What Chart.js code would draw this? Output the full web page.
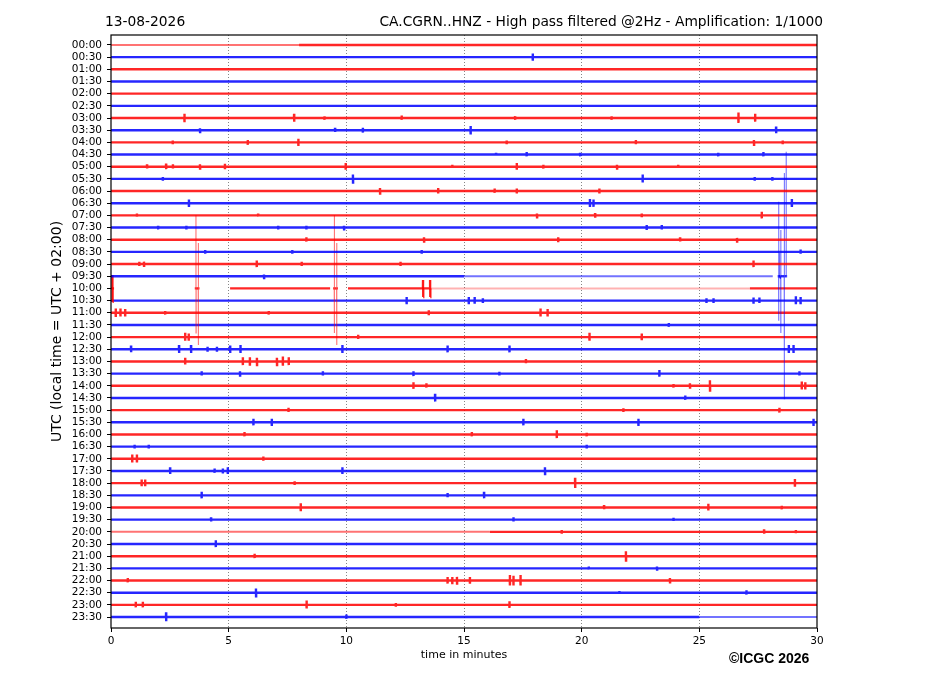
<!DOCTYPE html>
<html>
<head>
<meta charset="utf-8">
<script src="https://cdn.jsdelivr.net/npm/chart.js@4.4.1/dist/chart.umd.min.js"></script>
<style>
  html, body { margin: 0; padding: 0; background: #fff; }
  #wrap { width: 927px; height: 696px; position: relative; }
</style>
</head>
<body>
<div id="wrap"><canvas id="heliChart"></canvas></div>
<script>
// one trace per half hour, alternating red / blue
const rowLabels = [
  '00:00', '00:30', '01:00', '01:30', '02:00', '02:30', '03:00', '03:30',
  '04:00', '04:30', '05:00', '05:30', '06:00', '06:30', '07:00', '07:30',
  '08:00', '08:30', '09:00', '09:30', '10:00', '10:30', '11:00', '11:30',
  '12:00', '12:30', '13:00', '13:30', '14:00', '14:30', '15:00', '15:30',
  '16:00', '16:30', '17:00', '17:30', '18:00', '18:30', '19:00', '19:30',
  '20:00', '20:30', '21:00', '21:30', '22:00', '22:30', '23:00', '23:30'
];
const xTicks = [0, 5, 10, 15, 20, 25, 30];
const traceColors = ['255,0,0', '0,0,255'];

// small events: [row, minute, amplitude up, amplitude down] (amplitude in trace spacings)
const blips = [
  [1, 17.92, 0.3, 0.3],
  [6, 3.12, 0.35, 0.35], [6, 7.78, 0.35, 0.3], [6, 9.07, 0.15, 0.15], [6, 12.35, 0.2, 0.15], [6, 17.17, 0.15, 0.15], [6, 21.27, 0.15, 0.15], [6, 26.66, 0.45, 0.4], [6, 27.37, 0.35, 0.3],
  [7, 3.78, 0.15, 0.15], [7, 9.52, 0.2, 0.15], [7, 10.7, 0.2, 0.2], [7, 15.28, 0.35, 0.35], [7, 28.26, 0.3, 0.25],
  [8, 2.62, 0.15, 0.15], [8, 5.81, 0.2, 0.2], [8, 7.96, 0.3, 0.3], [8, 16.81, 0.15, 0.15], [8, 22.3, 0.2, 0.15], [8, 27.32, 0.2, 0.2], [8, 28.54, 0.15, 0.15],
  [9, 16.36, 0.15, 0.1], [9, 17.66, 0.2, 0.15], [9, 19.93, 0.15, 0.15], [9, 25.8, 0.15, 0.15], [9, 27.72, 0.2, 0.15],
  [10, 1.53, 0.2, 0.15], [10, 2.34, 0.25, 0.2], [10, 2.63, 0.2, 0.15], [10, 3.78, 0.2, 0.15], [10, 4.84, 0.25, 0.2], [10, 9.97, 0.3, 0.25], [10, 14.5, 0.15, 0.1], [10, 17.24, 0.3, 0.25], [10, 18.37, 0.15, 0.15], [10, 21.5, 0.15, 0.15], [10, 24.1, 0.15, 0.1],
  [11, 2.2, 0.15, 0.15], [11, 10.28, 0.35, 0.3], [11, 22.59, 0.35, 0.3], [11, 27.35, 0.15, 0.15], [11, 28.1, 0.15, 0.15],
  [12, 11.43, 0.25, 0.2], [12, 13.9, 0.25, 0.2], [12, 16.3, 0.2, 0.15], [12, 17.24, 0.2, 0.2], [12, 20.75, 0.2, 0.2],
  [13, 3.31, 0.3, 0.3], [13, 20.35, 0.35, 0.3], [13, 20.5, 0.3, 0.3], [13, 28.93, 0.35, 0.3],
  [14, 1.1, 0.15, 0.1], [14, 6.25, 0.15, 0.1], [14, 18.1, 0.15, 0.15], [14, 20.57, 0.2, 0.2], [14, 22.55, 0.15, 0.15], [14, 27.65, 0.3, 0.25],
  [15, 2.0, 0.15, 0.15], [15, 3.2, 0.15, 0.15], [15, 7.1, 0.15, 0.15], [15, 8.3, 0.15, 0.15], [15, 9.9, 0.15, 0.15], [15, 22.76, 0.2, 0.2], [15, 23.4, 0.2, 0.15],
  [16, 8.3, 0.2, 0.15], [16, 13.3, 0.2, 0.15], [16, 19.0, 0.2, 0.2], [16, 24.18, 0.2, 0.15], [16, 26.6, 0.15, 0.15],
  [17, 4.0, 0.15, 0.15], [17, 7.7, 0.15, 0.15], [17, 13.2, 0.15, 0.15], [17, 29.3, 0.2, 0.15],
  [18, 1.2, 0.2, 0.15], [18, 1.4, 0.2, 0.15], [18, 6.19, 0.3, 0.25], [18, 8.1, 0.2, 0.15], [18, 12.3, 0.2, 0.15], [18, 27.3, 0.3, 0.25],
  [19, 6.5, 0.15, 0.15],
  [21, 12.56, 0.3, 0.3], [21, 15.2, 0.3, 0.3], [21, 15.45, 0.3, 0.25], [21, 15.8, 0.2, 0.2], [21, 25.3, 0.2, 0.2], [21, 25.6, 0.2, 0.2], [21, 27.3, 0.25, 0.25], [21, 27.55, 0.25, 0.2], [21, 29.1, 0.35, 0.3], [21, 29.3, 0.3, 0.3],
  [22, 0.2, 0.35, 0.35], [22, 0.4, 0.35, 0.3], [22, 0.6, 0.3, 0.3], [22, 2.3, 0.15, 0.15], [22, 6.7, 0.15, 0.15], [22, 13.5, 0.2, 0.2], [22, 18.25, 0.35, 0.3], [22, 18.55, 0.3, 0.3],
  [23, 23.7, 0.15, 0.15],
  [24, 3.15, 0.35, 0.3], [24, 3.3, 0.3, 0.3], [24, 10.5, 0.2, 0.15], [24, 20.33, 0.35, 0.3], [24, 22.55, 0.3, 0.25],
  [25, 0.85, 0.3, 0.25], [25, 2.89, 0.35, 0.3], [25, 3.4, 0.35, 0.3], [25, 4.1, 0.2, 0.2], [25, 4.5, 0.2, 0.2], [25, 5.06, 0.3, 0.3], [25, 5.5, 0.35, 0.3], [25, 9.83, 0.35, 0.3], [25, 14.3, 0.3, 0.25], [25, 16.93, 0.3, 0.25], [25, 28.8, 0.35, 0.3], [25, 29.0, 0.35, 0.3],
  [26, 3.15, 0.3, 0.25], [26, 5.6, 0.35, 0.3], [26, 5.9, 0.35, 0.35], [26, 6.2, 0.3, 0.3], [26, 7.05, 0.3, 0.3], [26, 7.3, 0.4, 0.35], [26, 7.55, 0.35, 0.3], [26, 17.63, 0.2, 0.15],
  [27, 3.85, 0.2, 0.15], [27, 5.48, 0.2, 0.15], [27, 9.0, 0.2, 0.15], [27, 12.85, 0.2, 0.2], [27, 16.5, 0.15, 0.15], [27, 23.3, 0.3, 0.25], [27, 29.25, 0.2, 0.15],
  [28, 12.85, 0.3, 0.25], [28, 13.4, 0.2, 0.15], [28, 23.9, 0.15, 0.15], [28, 24.6, 0.2, 0.15], [28, 25.45, 0.45, 0.4], [28, 29.35, 0.35, 0.3], [28, 29.5, 0.3, 0.3],
  [29, 13.77, 0.35, 0.3], [29, 24.4, 0.2, 0.15],
  [30, 7.54, 0.2, 0.15], [30, 21.77, 0.15, 0.15], [30, 28.4, 0.2, 0.2],
  [31, 6.05, 0.3, 0.25], [31, 6.83, 0.3, 0.3], [31, 17.52, 0.3, 0.25], [31, 22.41, 0.3, 0.3], [31, 29.85, 0.3, 0.3],
  [32, 5.67, 0.2, 0.15], [32, 15.33, 0.2, 0.15], [32, 18.94, 0.35, 0.3], [32, 20.21, 0.15, 0.15],
  [33, 1.0, 0.15, 0.15], [33, 1.6, 0.15, 0.15], [33, 20.21, 0.15, 0.15],
  [34, 0.9, 0.35, 0.3], [34, 1.1, 0.35, 0.3], [34, 6.47, 0.2, 0.15],
  [35, 2.51, 0.3, 0.25], [35, 4.4, 0.2, 0.15], [35, 4.75, 0.2, 0.2], [35, 4.96, 0.3, 0.25], [35, 9.83, 0.3, 0.25], [35, 18.44, 0.3, 0.25],
  [36, 1.3, 0.3, 0.25], [36, 1.45, 0.3, 0.25], [36, 7.8, 0.15, 0.15], [36, 19.72, 0.45, 0.4], [36, 29.06, 0.35, 0.3],
  [37, 3.85, 0.3, 0.25], [37, 14.3, 0.2, 0.15], [37, 15.85, 0.3, 0.25],
  [38, 8.06, 0.35, 0.3], [38, 20.95, 0.2, 0.15], [38, 25.38, 0.3, 0.25], [38, 28.5, 0.15, 0.15],
  [39, 4.25, 0.2, 0.15], [39, 17.1, 0.2, 0.15], [39, 23.9, 0.15, 0.1],
  [40, 19.15, 0.15, 0.15], [40, 27.75, 0.2, 0.15], [40, 29.1, 0.15, 0.1],
  [41, 4.45, 0.3, 0.25],
  [42, 6.1, 0.2, 0.15], [42, 21.88, 0.4, 0.35],
  [43, 20.3, 0.15, 0.1], [43, 23.2, 0.15, 0.1],
  [44, 0.71, 0.2, 0.15], [44, 14.3, 0.3, 0.25], [44, 14.5, 0.3, 0.3], [44, 14.7, 0.3, 0.25], [44, 15.25, 0.3, 0.25], [44, 16.95, 0.45, 0.4], [44, 17.1, 0.4, 0.4], [44, 17.4, 0.45, 0.4], [44, 23.75, 0.2, 0.15],
  [45, 6.16, 0.35, 0.3], [45, 21.6, 0.15, 0.1], [45, 27.0, 0.2, 0.15],
  [46, 1.05, 0.25, 0.2], [46, 1.35, 0.25, 0.2], [46, 8.31, 0.35, 0.3], [46, 12.1, 0.15, 0.15], [46, 16.93, 0.3, 0.25],
  [47, 2.34, 0.4, 0.35], [47, 10.0, 0.2, 0.15]
];

// large glitches around 09:30 / 10:00
const glitchSpikes = [
  [20, 0.06, 1.1, 1.1],
  [20, 3.61, 6.03, 3.66], [20, 3.71, 3.73, 4.65],
  [20, 9.49, 6.03, 3.66], [20, 9.59, 3.73, 4.65],
  [20, 13.26, 0.7, 0.7], [20, 13.56, 0.7, 0.7],
  [19, 28.37, 6.12, 3.66], [19, 28.41, 1.9, 0.1], [19, 28.46, 3.8, 4.67],
  [19, 28.61, 8.48, 10.1], [19, 28.69, 10.23, 0]
];

// no data: [row, from minute, to minute]
const dataGaps = [
  [20, 0.13, 3.56], [20, 3.76, 5.06], [20, 9.31, 9.44], [20, 9.64, 10.07],
  [19, 28.12, 28.33], [19, 28.73, 30]
];

// flat, low-noise stretches: [row, from minute, to minute]
const quietSpans = [
  [0, 0, 7.99], [19, 15.0, 28.12], [20, 13.57, 27.15], [40, 0, 16.1], [47, 25.0, 30]
];

function buildRow(r) {
  const pts = [];
  const gaps = dataGaps.concat(quietSpans).filter(g => g[0] === r);
  const inGap = x => gaps.some(g => x >= g[1] && x <= g[2]);
  [0, 30].forEach(x => { if (!inGap(x)) pts.push({ x: x, y: r }); });
  blips.concat(glitchSpikes).filter(e => e[0] === r).forEach(e => {
    const m = e[1];
    pts.push({ x: m - 0.004, y: r });
    pts.push({ x: m, y: r - e[2] });
    pts.push({ x: m + 0.004, y: r + e[3] });
    pts.push({ x: m + 0.008, y: r });
  });
  gaps.forEach(g => {
    if (g[1] > 0) pts.push({ x: g[1], y: r });
    pts.push({ x: (g[1] + g[2]) / 2, y: null });
    if (g[2] < 30) pts.push({ x: g[2], y: r });
  });
  pts.sort((a, b) => a.x - b.x);
  return pts.filter((p, i) => i === 0 || p.x !== pts[i - 1].x || p.y !== pts[i - 1].y);
}

const traceSets = rowLabels.map((lab, r) => {
  const rgb = traceColors[r % 2];
  const tall = ctx => Math.abs(ctx.p1.parsed.y - ctx.p0.parsed.y) > 1.2;
  return {
    label: lab,
    data: buildRow(r),
    borderColor: `rgba(${rgb},0.85)`,
    borderWidth: 2.4,
    pointRadius: 0,
    tension: 0,
    spanGaps: false,
    fill: false,
    segment: {
      borderWidth: ctx => tall(ctx) ? 1.1 : 2.4,
      borderColor: ctx => tall(ctx) ? `rgba(${rgb},0.55)` : `rgba(${rgb},0.85)`
    }
  };
});

// quiet stretches drawn lighter and thinner, on top of everything
const quietSets = quietSpans.map(q => {
  const r = q[0];
  const rgb = traceColors[r % 2];
  return {
    label: rowLabels[r] + ' quiet',
    data: [{ x: q[1], y: r }, { x: q[2], y: r }],
    borderColor: r === 20 ? `rgba(${rgb},0.3)` : `rgba(${rgb},0.55)`,
    borderWidth: 2,
    pointRadius: 0,
    fill: false,
    order: -1
  };
});

const frameAndText = {
  id: 'frameAndText',
  afterDraw(chart) {
    const { ctx, chartArea: a } = chart;
    ctx.save();
    ctx.strokeStyle = '#000';
    ctx.lineWidth = 1.2;
    ctx.strokeRect(a.left, a.top, a.right - a.left, a.bottom - a.top);
    ctx.fillStyle = '#000';
    ctx.textBaseline = 'alphabetic';
    ctx.font = '13.8px "DejaVu Sans"';
    ctx.textAlign = 'left';
    ctx.fillText('13-08-2026', a.left - 6, 25.5);
    ctx.textAlign = 'right';
    ctx.fillText('CA.CGRN..HNZ - High pass filtered @2Hz - Amplification: 1/1000', a.right + 6, 25.5);
    ctx.font = 'bold 14px "Liberation Sans"';
    ctx.textAlign = 'left';
    ctx.fillText('\u00a9ICGC 2026', a.right - 88, 663);
    ctx.restore();
  }
};

new Chart(document.getElementById('heliChart'), {
  type: 'line',
  data: { datasets: traceSets.concat(quietSets) },
  plugins: [frameAndText],
  options: {
    responsive: true,
    maintainAspectRatio: false,
    animation: false,
    events: [],
    layout: { padding: { top: 35, right: 110, bottom: 30, left: 45 } },
    plugins: { legend: { display: false }, tooltip: { enabled: false } },
    scales: {
      x: {
        type: 'linear',
        min: 0,
        max: 30,
        afterBuildTicks: s => { s.ticks = xTicks.map(v => ({ value: v })); },
        afterFit: s => { s.height = 38; },
        ticks: { color: '#000', font: { family: 'DejaVu Sans', size: 10.5 }, padding: 3, maxRotation: 0 },
        grid: {
          color: c => (c.tick && (c.tick.value === 0 || c.tick.value === 30)) ? 'rgba(0,0,0,0)' : 'rgba(0,0,0,0.6)',
          lineWidth: 0.8,
          borderDash: [1, 2],
          tickColor: '#000',
          tickWidth: 1,
          tickLength: 4
        },
        border: { display: false, dash: [1, 2] },
        title: { display: true, text: 'time in minutes', color: '#000', font: { family: 'DejaVu Sans', size: 11 } }
      },
      y: {
        type: 'linear',
        reverse: true,
        min: -0.82,
        max: 47.9,
        afterBuildTicks: s => { s.ticks = rowLabels.map((l, i) => ({ value: i })); },
        afterFit: s => { s.width = 66; },
        ticks: {
          autoSkip: false,
          color: '#000',
          font: { family: 'DejaVu Sans', size: 10.5 },
          padding: 5,
          callback: (v, i) => rowLabels[i]
        },
        grid: { drawOnChartArea: false, color: '#000', tickLength: 4 },
        border: { display: false },
        title: { display: true, text: 'UTC (local time = UTC + 02:00)', color: '#000', font: { family: 'DejaVu Sans', size: 14 } }
      }
    }
  }
});
</script>
</body>
</html>
